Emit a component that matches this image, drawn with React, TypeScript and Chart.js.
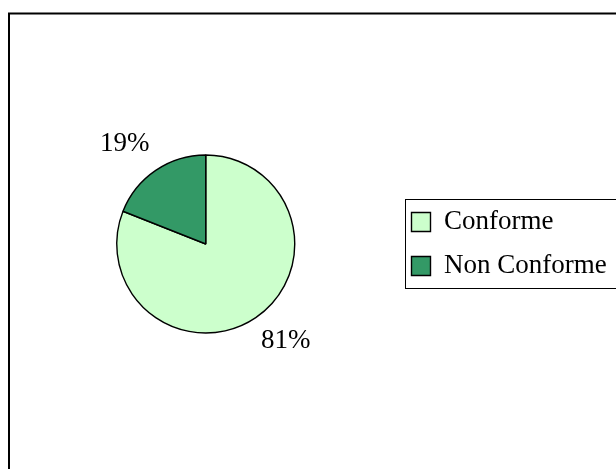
import React, { useEffect, useRef } from 'react';
import { Chart, registerables } from 'chart.js';

Chart.register(...registerables);

const categories = ['Conforme', 'Non Conforme'];
const values = [81, 19];
const colors = ['#CCFFCC', '#339966'];

const FONT = '"Liberation Serif", "Times New Roman", serif';
const FONT_SIZE = 27;
const CANVAS_W = 660;
const CANVAS_H = 469;

export default function App() {
  const ref = useRef<HTMLCanvasElement>(null);

  useEffect(() => {
    const canvas = ref.current;
    if (!canvas) return;

    // measure the widest legend text so the legend lands where intended
    const mctx = canvas.getContext('2d')!;
    mctx.font = `${FONT_SIZE}px ${FONT}`;
    const textW = Math.max(...categories.map((c) => mctx.measureText(c).width));
    const boxW = 19;
    const legPad = 17;
    const legendW = legPad + boxW + FONT_SIZE / 2 + textW + 10;
    const legendLeft = 394.5;
    const padRight = CANVAS_W - legendLeft - legendW;

    const framePlugin = {
      id: 'frame',
      beforeDraw(chart: any) {
        const ctx = chart.ctx;
        ctx.save();
        ctx.fillStyle = '#ffffff';
        ctx.fillRect(0, 0, chart.width, chart.height);
        ctx.strokeStyle = '#000000';
        ctx.lineWidth = 2;
        ctx.strokeRect(9, 13.5, chart.width + 40, chart.height + 40);
        ctx.restore();
      },
    };

    const legendBoxPlugin = {
      id: 'legendBox',
      afterDraw(chart: any) {
        const lg = chart.legend;
        if (!lg) return;
        const pad = lg.options.labels.padding;
        const itemH = Math.max(FONT_SIZE, lg.options.labels.boxHeight);
        const colH = categories.length * (itemH + pad);
        const x0 = lg.left + pad;
        const y0 = (lg.top + pad + lg.bottom - colH) / 2;
        const top = Math.round(y0 - 10) + 0.5;
        const bottom = Math.round(y0 + colH - pad + 8) + 0.5;
        const left = Math.round(x0 - 6.5) + 0.5;
        const ctx = chart.ctx;
        ctx.save();
        ctx.strokeStyle = '#000000';
        ctx.lineWidth = 1;
        ctx.strokeRect(left, top, chart.width + 40 - left, bottom - top);
        ctx.restore();
      },
    };

    const pctLabelPlugin = {
      id: 'pctLabels',
      afterDatasetsDraw(chart: any) {
        const meta = chart.getDatasetMeta(0);
        const data = chart.data.datasets[0].data as number[];
        const total = data.reduce((a, b) => a + b, 0);
        const ctx = chart.ctx;
        ctx.save();
        ctx.font = `${FONT_SIZE}px ${FONT}`;
        ctx.fillStyle = '#000000';
        ctx.textAlign = 'center';
        ctx.textBaseline = 'middle';
        meta.data.forEach((arc: any, i: number) => {
          const p = arc.getProps(['x', 'y', 'startAngle', 'endAngle', 'outerRadius'], true);
          const a = (p.startAngle + p.endAngle) / 2 - (5 * Math.PI) / 180;
          const d = p.outerRadius * 1.43;
          const txt = `${Math.round((data[i] / total) * 100)}%`;
          ctx.fillText(txt, p.x + Math.cos(a) * d - 0.5, p.y + Math.sin(a) * d - 1.5);
        });
        ctx.restore();
      },
    };

    const chart = new Chart(canvas, {
      type: 'pie',
      data: {
        labels: categories,
        datasets: [
          {
            data: values,
            backgroundColor: colors,
            borderColor: '#000000',
            borderWidth: 1.4,
          },
        ],
      },
      options: {
        responsive: false,
        animation: false,
        devicePixelRatio: 1,
        radius: 89,
        layout: { padding: { left: 17, right: padRight, top: 19, bottom: 0 } },
        plugins: {
          legend: {
            position: 'right',
            labels: {
              boxWidth: boxW,
              boxHeight: 19,
              padding: legPad,
              color: '#000000',
              font: { family: FONT, size: FONT_SIZE },
            },
          },
          tooltip: { enabled: false },
        },
      } as any,
      plugins: [framePlugin, legendBoxPlugin, pctLabelPlugin],
    });

    return () => chart.destroy();
  }, []);

  return (
    <div
      style={{
        position: 'fixed',
        left: 0,
        top: 0,
        width: 616,
        height: 469,
        overflow: 'hidden',
        background: '#ffffff',
      }}
    >
      <canvas ref={ref} width={CANVAS_W} height={CANVAS_H} style={{ display: 'block' }} />
    </div>
  );
}
